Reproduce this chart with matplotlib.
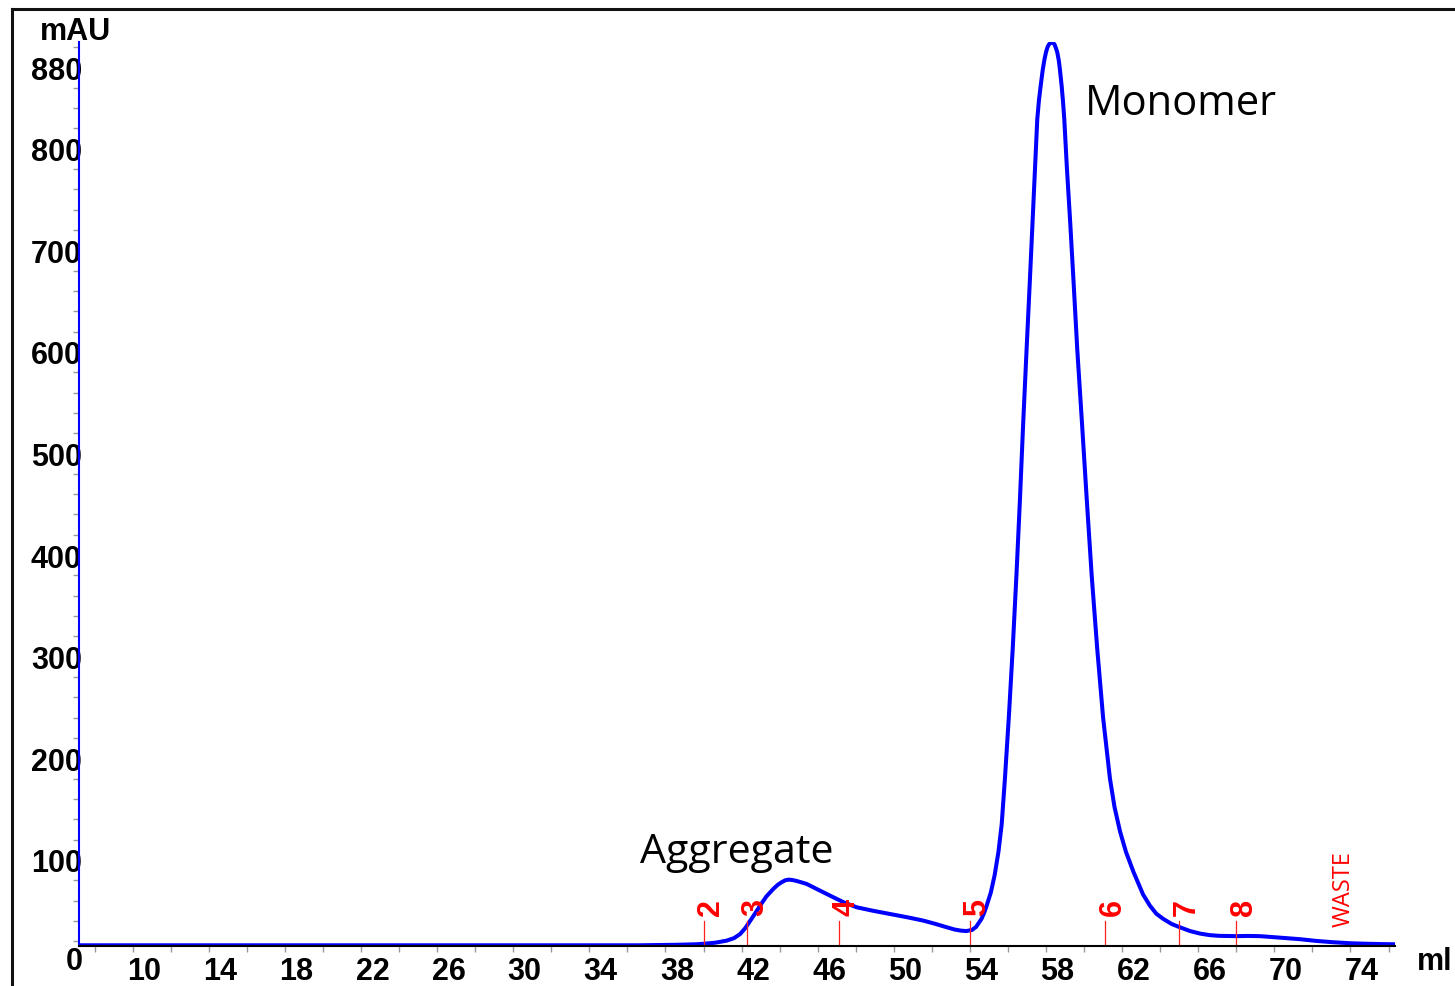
import matplotlib
matplotlib.use("Agg")
import matplotlib.pyplot as plt
from matplotlib.lines import Line2D
import numpy as np

# UV trace (ml, mAU)
volume = [6.6, 36.0, 38.0, 39.0, 39.4, 40.0, 40.3, 40.62, 41.0, 41.32, 41.6,
          41.85, 42.1, 42.37, 42.7, 43.07, 43.3, 43.5, 43.7, 43.86, 44.05,
          44.3, 44.82, 45.5, 46.22, 46.8, 47.45, 48.3, 49.2, 50.1, 50.95,
          51.6, 52.17, 52.6, 52.9, 53.2, 53.5, 53.72, 54.01, 54.15, 54.28,
          54.5, 54.7, 54.9, 55.07, 55.24, 55.45, 55.65, 55.85, 56.03, 56.2,
          56.38, 56.55, 56.7, 56.82, 56.94, 57.03, 57.12, 57.23, 57.32, 57.4,
          57.48, 57.55, 57.62, 57.7, 57.78, 57.85, 57.92, 57.99, 58.07, 58.13,
          58.22, 58.29, 58.36, 58.5, 58.66, 58.85, 59.04, 59.3, 59.54, 59.8,
          60.09, 60.4, 60.76, 61.0, 61.29, 61.6, 62.0, 62.16, 62.5, 62.86,
          63.2, 63.56, 64.0, 64.4, 64.97, 65.5, 66.0, 66.5, 67.43, 68.0,
          68.64, 69.5, 70.75, 71.6, 72.5, 73.4, 74.25, 75.0, 75.73]
absorbance = [16, 16, 16.5, 17, 17.5, 18.5, 19.5, 20.6, 23, 27, 33,
              40, 47, 55, 64, 71.5, 75.5, 78, 80, 80.6, 80.3,
              79.3, 76.4, 70, 63.3, 58, 53.4, 50, 46.8, 43.6, 40.3,
              37, 33.8, 31.5, 30.5, 30, 31, 34, 42, 48, 55,
              68, 85, 108, 135, 180, 242, 308, 382, 455, 530,
              603, 670, 731, 780, 829, 848, 862, 878, 888, 895,
              900, 902.5, 904, 905, 904, 902.5, 899, 895, 887, 878,
              862, 847, 829, 780, 731, 668, 603, 527, 455, 380,
              308, 240, 180, 152, 128, 108, 88, 81, 66, 55,
              47, 42, 37, 34, 30, 27.5, 26, 25.3, 25, 25.2,
              25, 23.8, 22, 20.3, 19, 18, 17.5, 17.2, 17]

# fraction marks
frac_pos = [39.4, 41.7, 46.5, 53.4, 60.5, 64.4, 67.4]
frac_labels = ["2", "3", "4", "5", "6", "7", "8"]
waste_pos = 73.06

x_ticks = list(range(10, 75, 4))
y_ticks = [100, 200, 300, 400, 500, 600, 700, 800, 880]

W, H = 1455, 987
fig = plt.figure(figsize=(W / 100, H / 100), dpi=100)
ax = fig.add_axes([79 / W, 1 - 947 / H, (1395 - 79) / W, (947 - 43) / H])

ax.plot(volume, absorbance, color="#0000ff", lw=2.9, solid_joinstyle="round")
ax.set_xlim(6.58, 75.74)
ax.set_ylim(15.3, 905)

for s in ["top", "right"]:
    ax.spines[s].set_visible(False)
ax.spines["left"].set_color("#0000ff")
ax.spines["left"].set_linewidth(1.5)
ax.spines["bottom"].set_color("black")
ax.spines["bottom"].set_linewidth(1.5)

tick_font = dict(family="Liberation Sans", weight="bold", size=22)
ax.set_xticks(x_ticks)
ax.set_xticklabels([str(v) for v in x_ticks], fontdict=tick_font)
ax.set_xticks(np.arange(7.4, 75.5, 2), minor=True)
ax.set_yticks(y_ticks)
ax.set_yticklabels([str(v) for v in y_ticks], fontdict=tick_font)
ax.set_yticks(np.arange(20, 905, 20), minor=True)
ax.tick_params(axis="x", which="major", length=0, pad=7)
ax.tick_params(axis="y", which="major", length=0, pad=-2)
ax.tick_params(which="minor", length=4, width=1, color="#999999")

# fraction markers
for pos, lab in zip(frac_pos, frac_labels):
    ax.plot([pos, pos], [15.3, 40], color="#ff2020", lw=0.9)
    ax.text(pos + 0.4, 46, lab, color="#ff0000", rotation=90, ha="center",
            va="bottom", family="Liberation Sans", weight="bold", size=22)
ax.text(waste_pos, 35, "WASTE", color="#ff0000", rotation=90, ha="center",
        va="bottom", family="Open Sans", size=17)

# peak labels
fig.text(1085 / W, 1 - 115 / H, "Monomer", family="Open Sans", size=30,
         ha="left", va="baseline")
fig.text(640 / W, 1 - 863 / H, "Aggregate", family="Open Sans", size=29.6,
         ha="left", va="baseline")

# axis names and zero
fig.text(76 / W, 1 - 32 / H, "mAU", ha="center", va="center", **tick_font)
fig.text(1435 / W, 1 - 962 / H, "ml", ha="center", va="center", **tick_font)
fig.text(74.5 / W, 1 - 962 / H, "0", ha="center", va="center", **tick_font)

# outer frame (left and top edges visible)
fig.add_artist(Line2D([12 / W, 12 / W], [0, 1 - 10 / H], color="#111111", lw=2.2))
fig.add_artist(Line2D([12 / W, 1], [1 - 10 / H, 1 - 10 / H], color="#111111", lw=2.2))

fig.savefig("out.png", dpi=100)
